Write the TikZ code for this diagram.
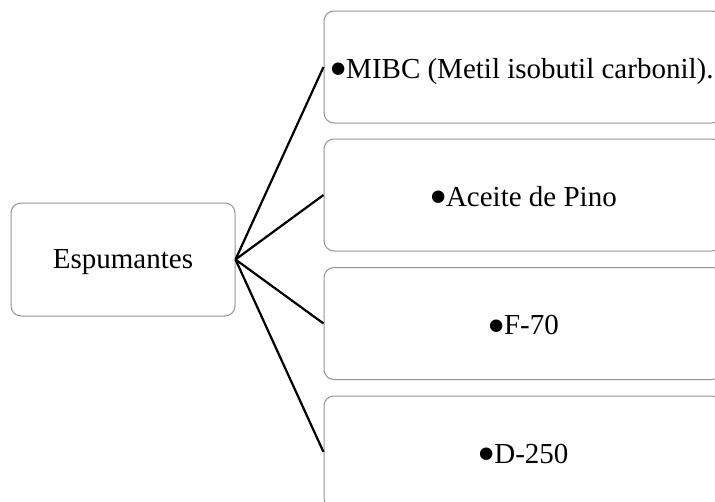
\documentclass[tikz,border=0pt]{standalone}
\usepackage{fontspec}
\usepackage{graphicx}
\setmainfont{Liberation Serif}
% enlarged list marker, lowered to sit at mid x-height
\newcommand{\itemdot}{\raisebox{-8.5pt}{\scalebox{1.8}{\textbullet}}\hspace{-1.5pt}}
\tikzset{
  itembox/.style={draw=black!42, line width=1pt, rounded corners=10pt, fill=white,
    minimum width=398pt, minimum height=112pt, inner sep=0pt, align=center,
    text height=23pt, text depth=1pt,
    font=\fontsize{29}{34}\selectfont},
  rootbox/.style={itembox, minimum width=224pt, minimum height=113pt,
    text height=19pt, text depth=2pt},
  link/.style={line width=2.2pt, black}
}
\begin{document}
\begin{tikzpicture}[x=1pt, y=-1pt]
  \useasboundingbox (0,0) rectangle (715,501);
  \clip (0,0) rectangle (715,501);
  \node[rootbox] (root) at (123,259.5) {Espumantes};
  \node[itembox] (b1) at (523,67) {\hspace*{-3pt}\itemdot MIBC (Metil isobutil carbonil).};
  \node[itembox] (b2) at (523,195) {\itemdot Aceite de Pino};
  \node[itembox] (b3) at (523,323.5) {\itemdot F-70};
  \node[itembox] (b4) at (523,452) {\itemdot D-250};
  \foreach \b in {b1,b2,b3,b4}
    \draw[link] (root.east) -- (\b.west);
\end{tikzpicture}
\end{document}
